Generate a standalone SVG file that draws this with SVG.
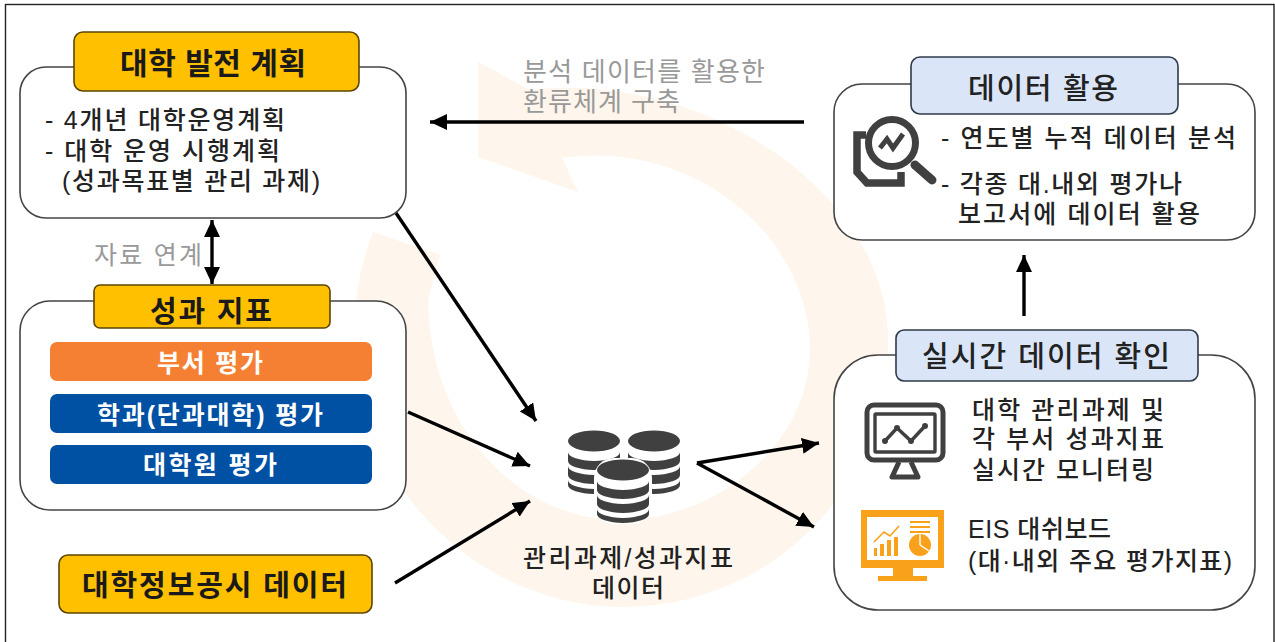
<svg xmlns="http://www.w3.org/2000/svg" width="1275" height="642" viewBox="0 0 1275 642">
<style>
text{font-family:"Liberation Sans","Noto Sans CJK KR",sans-serif;fill:#222;font-size:25px;font-weight:500}
.h{font-weight:700;fill:#1a1a1a}
.g{fill:#999;font-weight:400}
.w{fill:#fff;font-weight:700}
.panel{fill:#fff;stroke:#444;stroke-width:1.6}
.gold{fill:#ffc000;stroke:#5c4600;stroke-width:1.6}
.blue{fill:#dae6f7;stroke:#2f3b4a;stroke-width:1.6}
.c{fill:none;stroke:#000;stroke-width:3.4}
.ic{fill:none;stroke:#404040}
.or{fill:#f9a11b}
</style>
<defs>
<marker id="a" markerUnits="userSpaceOnUse" markerWidth="18" markerHeight="16" refX="17" refY="8" orient="auto-start-reverse"><path d="M0 0L17 8L0 16Z" fill="#000"/></marker>
<g id="db"><ellipse cx="0" cy="0" rx="26" ry="10.5" fill="#404040"/><path d="M-26 11A26 9 0 0 0 26 11V20A26 9 0 0 1 -26 20Z" fill="#404040"/><path d="M-26 25A26 9 0 0 0 26 25V34A26 9 0 0 1 -26 34Z" fill="#404040"/><path d="M-26 39A26 9 0 0 0 26 39V44A26 9 0 0 1 -26 44Z" fill="#404040"/></g>
</defs>
<rect width="1275" height="642" fill="#fff"/>
<path id="ring" d="M478 62L530 90C700 70 888 190 888 340C888 490 770 607 622 607C510 607 400 530 365 410C350 350 350 290 373 232L440 255L428 300C430 430 520 520 620 520C720 520 815 440 810 340C800 220 680 140 562 158L578 192L478 157Z" fill="#fef5ec"/>
<rect x="5.5" y="4.5" width="1268.5" height="660" fill="none" stroke="#222" stroke-width="1.4"/>
<g id="connectors">
<path class="c" d="M212 220V284" marker-start="url(#a)" marker-end="url(#a)"/>
<path class="c" d="M804 122H430" marker-end="url(#a)"/>
<path class="c" d="M396 213L536 421" marker-end="url(#a)"/>
<path class="c" d="M408 412L530 466" marker-end="url(#a)"/>
<path class="c" d="M395 583L530 501" marker-end="url(#a)"/>
<path class="c" d="M697 463L819 443" marker-end="url(#a)"/>
<path class="c" d="M697 463L814 527" marker-end="url(#a)"/>
<path class="c" d="M1024 316V255" marker-end="url(#a)"/>
</g>
<g id="plan">
<rect class="panel" x="20" y="67" width="386" height="151" rx="26"/>
<rect class="gold" x="74" y="32" width="285" height="59" rx="9"/>
<text class="h" x="120" y="74" style="font-size:30px" textLength="186">대학 발전 계획</text>
<text x="45" y="129" textLength="240">- 4개년 대학운영계획</text>
<text x="45" y="160" textLength="235">- 대학 운영 시행계획</text>
<text x="62" y="190" textLength="258">(성과목표별 관리 과제)</text>
</g>
<text id="link" class="g" x="94" y="264" textLength="108">자료 연계</text>
<g id="kpi">
<rect class="panel" x="20" y="301" width="386" height="209" rx="30"/>
<rect class="gold" x="94" y="285" width="236" height="43" rx="6"/>
<text class="h" x="150" y="322" style="font-size:29px" textLength="122">성과 지표</text>
<rect x="50" y="342" width="322" height="39" rx="7" fill="#f57f33"/>
<text class="w" x="157" y="372" textLength="106">부서 평가</text>
<rect x="50" y="394" width="322" height="39" rx="7" fill="#0050a4"/>
<text class="w" x="97" y="424" textLength="226">학과(단과대학) 평가</text>
<rect x="50" y="445" width="322" height="39" rx="7" fill="#0050a4"/>
<text class="w" x="143" y="474" textLength="134">대학원 평가</text>
</g>
<g id="disclosure">
<rect class="gold" x="59" y="555" width="313" height="58" rx="9"/>
<text class="h" x="82" y="596" style="font-size:29px" textLength="265">대학정보공시 데이터</text>
</g>
<g id="fb">
<text class="g" style="font-size:26px" x="523" y="81" textLength="242">분석 데이터를 활용한</text>
<text class="g" style="font-size:26px" x="523" y="111" textLength="157">환류체계 구축</text>
</g>
<g id="use">
<rect class="panel" x="834" y="84" width="421" height="156" rx="28"/>
<rect class="blue" x="911" y="57" width="267" height="57" rx="9"/>
<text x="968" y="99" style="font-size:29px" textLength="150">데이터 활용</text>
<circle class="ic" cx="892" cy="143" r="23.5" stroke-width="7"/>
<path class="ic" d="M880 148L887 139L893 148L903 134" stroke-width="5"/>
<path class="ic" d="M915 165L932 180" stroke-width="9" stroke-linecap="round"/>
<path class="ic" d="M866 135H857V172L867 183H901V172" stroke-width="7.5"/>
<text x="941" y="147" textLength="295">- 연도별 누적 데이터 분석</text>
<text x="941" y="193" textLength="241">- 각종 대.내외 평가나</text>
<text x="958" y="223" textLength="242">보고서에 데이터 활용</text>
</g>
<g id="realtime">
<rect class="panel" x="834" y="355" width="421" height="255" rx="44"/>
<rect class="blue" x="896" y="330" width="302" height="51" rx="8"/>
<text x="922" y="367" style="font-size:29px" textLength="248">실시간 데이터 확인</text>
<rect class="ic" x="867" y="405" width="76" height="55" rx="7" stroke-width="5"/>
<rect class="ic" x="875" y="414" width="60" height="38" rx="1" stroke-width="3.4"/>
<path class="ic" d="M885 441L897 428L911 441L925 426" stroke-width="3.4"/>
<circle cx="885" cy="441" r="3" fill="#404040"/><circle cx="897" cy="428" r="3" fill="#404040"/><circle cx="911" cy="441" r="3" fill="#404040"/><circle cx="925" cy="426" r="3" fill="#404040"/>
<path class="ic" d="M899 462L892 477H918L911 462" stroke-width="5" stroke-linejoin="round"/>
<text x="972" y="419" textLength="192">대학 관리과제 및</text>
<text x="972" y="448" textLength="192">각 부서 성과지표</text>
<text x="972" y="479" textLength="182">실시간 모니터링</text>
<rect class="or" x="861" y="510" width="83" height="58"/>
<rect x="867" y="517" width="71" height="43" fill="#fff"/>
<rect class="or" x="893" y="568" width="20" height="9"/>
<rect class="or" x="878" y="576" width="49" height="5"/>
<path class="or" d="M874 548h3v8h-3zM880 544h4v12h-4zM887 540h4v16h-4zM894 537h4v19h-4z"/>
<path d="M874 542L884 532L890 536L899 526" fill="none" stroke="#f9a11b" stroke-width="1.6"/>
<circle class="or" cx="920" cy="545" r="11"/>
<path d="M920 545V534M920 545L929 551" stroke="#fff" stroke-width="1.4"/>
<path d="M910 522H930M910 527H930M910 532H930" stroke="#f9a11b" stroke-width="2"/>
<text x="968" y="538" textLength="143">EIS 대쉬보드</text>
<text x="968" y="570" textLength="264">(대·내외 주요 평가지표)</text>
</g>
<g id="data">
<use href="#db" x="594" y="441"/>
<use href="#db" x="654" y="441"/>
<rect x="594" y="458" width="58" height="66" rx="20" fill="#fff"/>
<use href="#db" x="623" y="470"/>
<text x="523" y="567" textLength="210">관리과제/성과지표</text>
<text x="592" y="597" textLength="72">데이터</text>
</g>
</svg>
